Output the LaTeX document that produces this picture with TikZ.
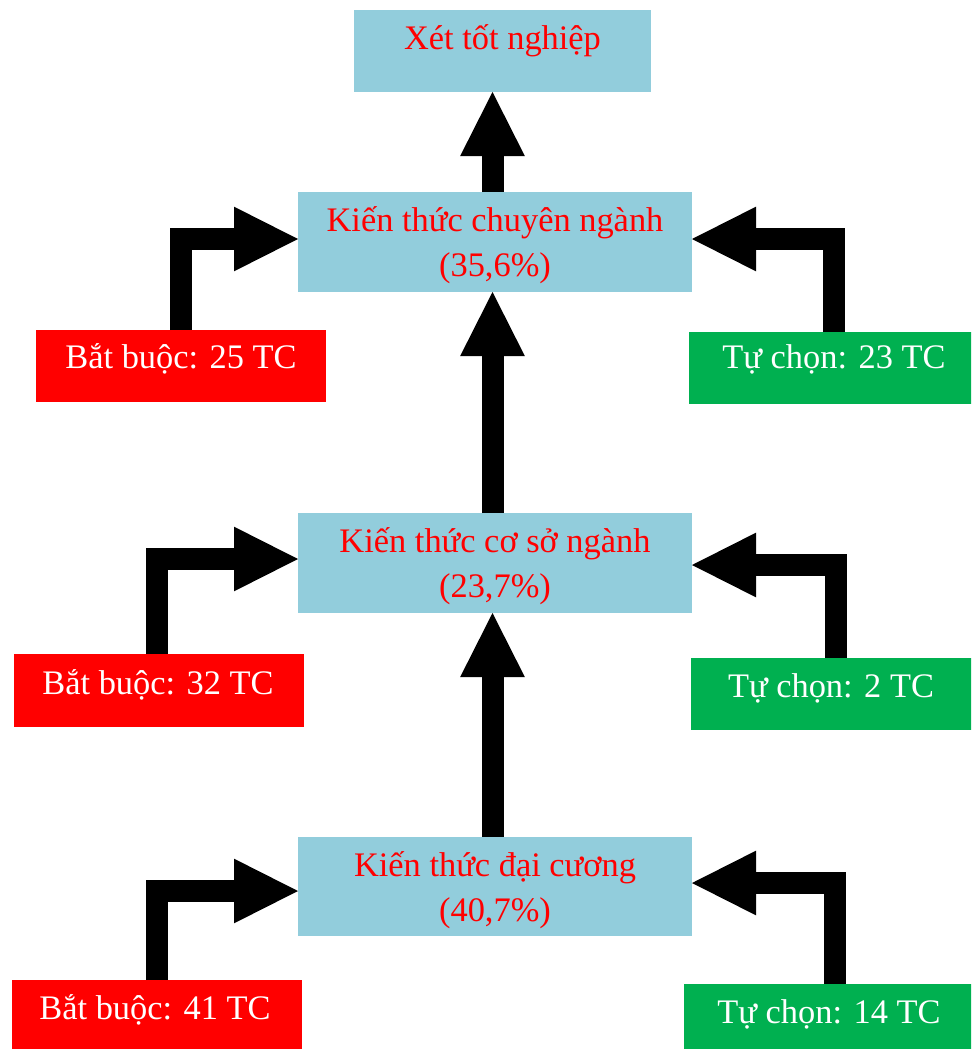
\documentclass[tikz,border=0pt]{standalone}
\usepackage{fontspec}
\setmainfont{Liberation Serif}
\usetikzlibrary{arrows.meta}
\definecolor{boxblue}{HTML}{92CDDC}
\definecolor{boxred}{HTML}{FF0000}
\definecolor{boxgreen}{HTML}{00B050}
\definecolor{txtred}{HTML}{FF0000}
\tikzset{
  box/.style={draw=none, inner sep=0pt, outer sep=0pt},
  bluebox/.style={box, fill=boxblue},
  redbox/.style={box, fill=boxred},
  greenbox/.style={box, fill=boxgreen},
  bigbox/.style={bluebox, minimum width=295.5pt, minimum height=75pt},
  sidebox/.style={box, minimum width=217.5pt, minimum height=54pt},
  rtxt/.style={inner sep=0pt, anchor=base, text=txtred, font=\fontsize{25.8pt}{31pt}\selectfont},
  wtxt/.style={inner sep=0pt, anchor=base, text=white, font=\fontsize{25.8pt}{31pt}\selectfont},
  fat/.style={draw=black, line width=16.5pt, line join=miter, line cap=butt,
    -{Triangle[length=48pt, width=48.5pt, line width=0pt]}}
}
\begin{document}
\begin{tikzpicture}[x=0.75pt, y=-0.75pt]
\useasboundingbox (0,0) rectangle (971,1049);
\clip (0,0) rectangle (971,1049);
\fill[white] (0,0) rectangle (971,1049);

% main boxes
\node[bluebox, minimum width=222.75pt, minimum height=61.5pt] (top) at (502.5,51) {};
\node[bigbox] (cn) at (495,242) {};
\node[bigbox] (cs) at (495,563) {};
\node[bigbox, minimum height=74.25pt] (dc) at (495,886.5) {};

% side boxes
\node[sidebox, fill=boxred] (bb1) at (181,366) {};
\node[sidebox, fill=boxgreen] (tc1) at (834,367.5) {};
\node[sidebox, fill=boxred, minimum height=54.75pt] (bb2) at (158.5,690.5) {};
\node[sidebox, fill=boxgreen] (tc2) at (836,694) {};
\node[sidebox, fill=boxred] (bb3) at (157,1016) {};
\node[sidebox, fill=boxgreen] (tc3) at (829,1020) {};

% texts
\node[rtxt] (topt) at (502.5,50) {Xét tốt nghiệp};
\node[rtxt] (cnt1) at (495,231) {Kiến thức chuyên ngành};
\node[rtxt] (cnt2) at (495,276) {(35,6\%)};
\node[rtxt] (cst1) at (495,552) {Kiến thức cơ sở ngành};
\node[rtxt] (cst2) at (495,597) {(23,7\%)};
\node[rtxt] (dct1) at (495,876) {Kiến thức đại cương};
\node[rtxt] (dct2) at (495,921) {(40,7\%)};

\node[wtxt] (bb1t) at (181,368) {Bắt buộc: 25 TC};
\node[wtxt] (tc1t) at (834,368) {Tự chọn: 23 TC};
\node[wtxt] (bb2t) at (158,694) {Bắt buộc: 32 TC};
\node[wtxt] (tc2t) at (831,697) {Tự chọn: 2 TC};
\node[wtxt] (bb3t) at (155,1019) {Bắt buộc: 41 TC};
\node[wtxt] (tc3t) at (829,1023) {Tự chọn: 14 TC};

% bend points
\coordinate (vx) at (492.5,0);
\coordinate (l1) at (181,239);
\coordinate (r1) at (834,239);
\coordinate (l2) at (156.5,559);
\coordinate (r2) at (835.5,565);
\coordinate (l3) at (156.5,891);
\coordinate (r3) at (835,883);

% vertical arrows
\draw[fat] (cn.north -| vx) -- (top.south -| vx);
\draw[fat] (cs.north -| vx) -- (cn.south -| vx);
\draw[fat] (dc.north -| vx) -- (cs.south -| vx);

% side arrows
\draw[fat] (bb1.north -| l1) |- (cn.west |- l1);
\draw[fat] (tc1.north -| r1) |- (cn.east |- r1);
\draw[fat] (bb2.north -| l2) |- (cs.west |- l2);
\draw[fat] (tc2.north -| r2) |- (cs.east |- r2);
\draw[fat] (bb3.north -| l3) |- (dc.west |- l3);
\draw[fat] (tc3.north -| r3) |- (dc.east |- r3);
\end{tikzpicture}
\end{document}
